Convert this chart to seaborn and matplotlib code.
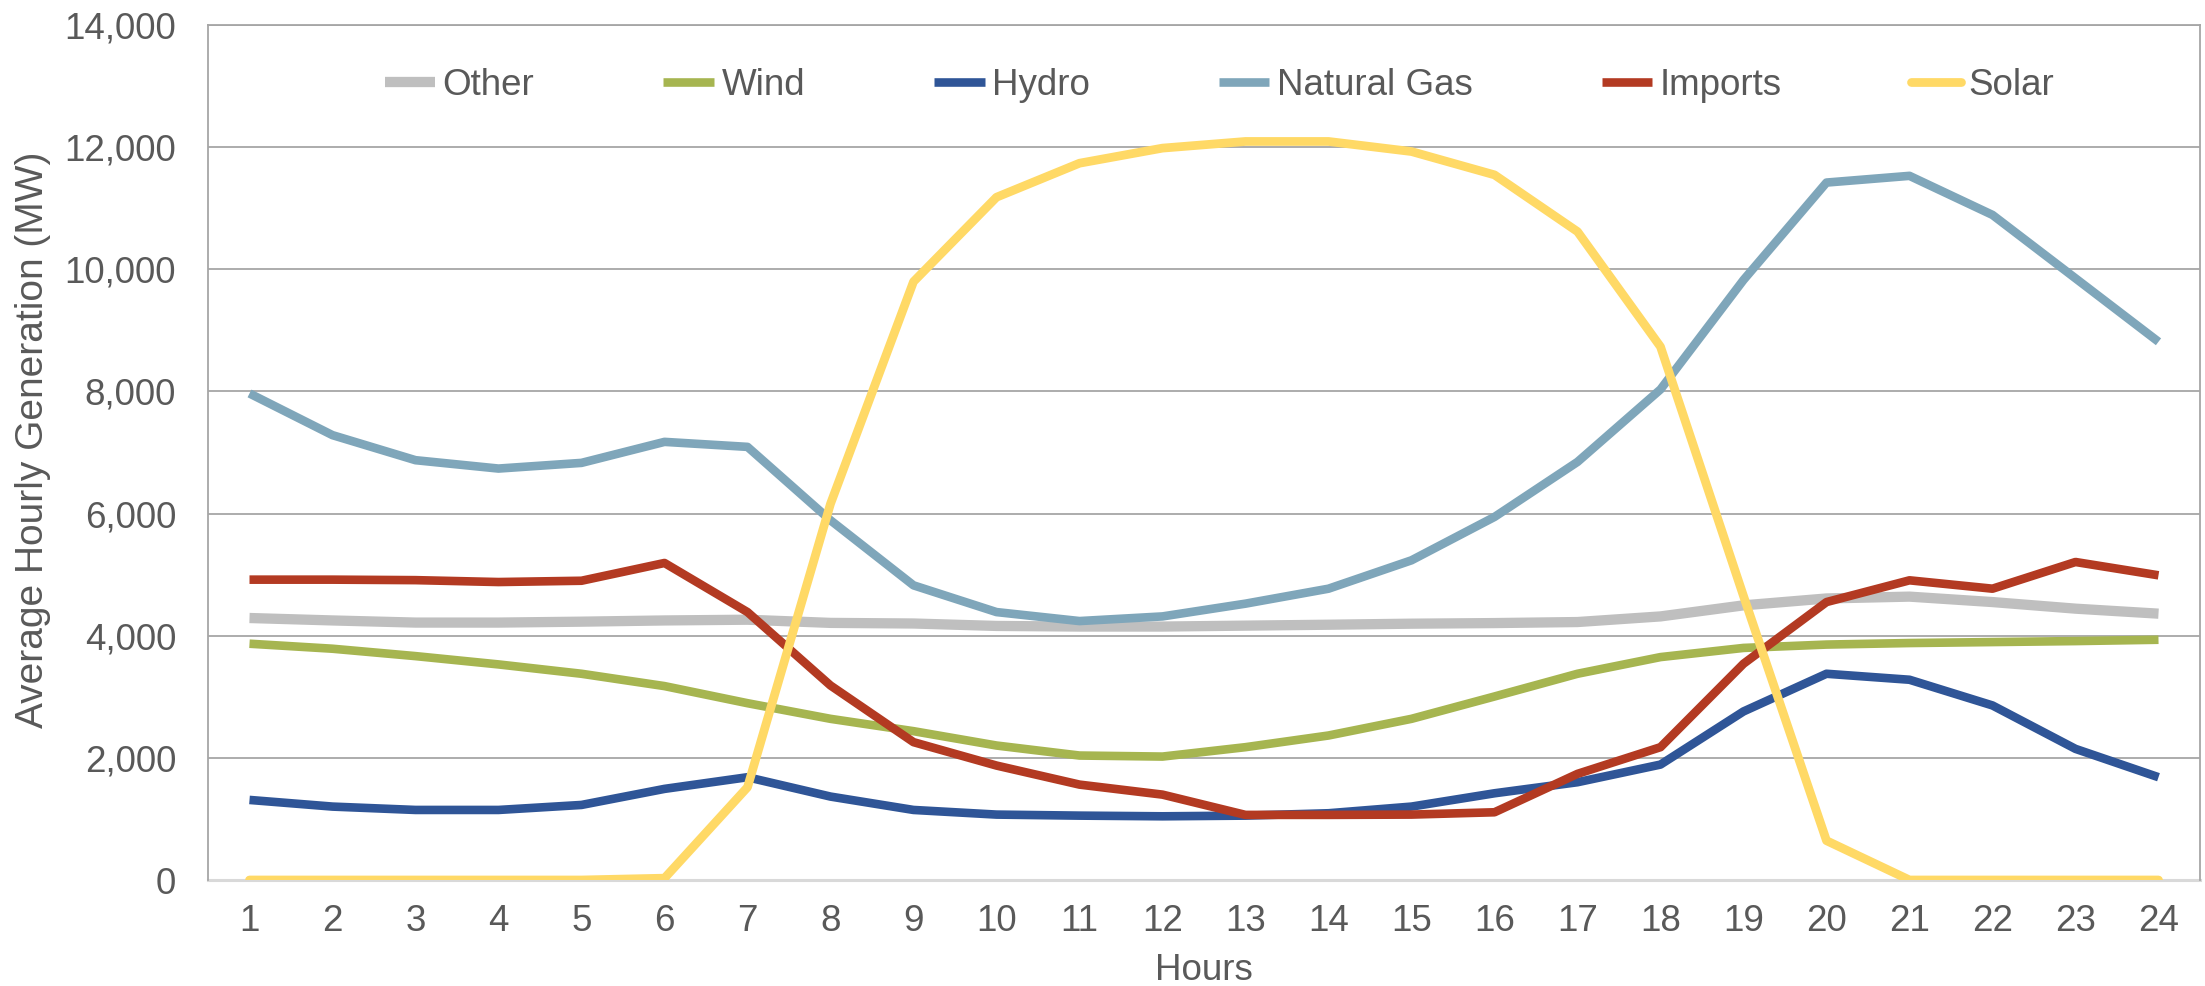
import matplotlib
matplotlib.use("Agg")
import matplotlib.pyplot as plt
import pandas as pd
import seaborn as sns
from matplotlib.lines import Line2D

# Average hourly generation by source (MW), hours 1-24
hours = list(range(1, 25))
other = [4290, 4250, 4215, 4215, 4230, 4250, 4262, 4210, 4200, 4160, 4150, 4150,
         4165, 4180, 4197, 4207, 4224, 4316, 4497, 4610, 4640, 4551, 4443, 4361]
wind = [3869, 3787, 3666, 3530, 3377, 3175, 2895, 2639, 2437, 2202, 2038, 2021,
        2175, 2366, 2639, 3005, 3377, 3650, 3800, 3855, 3880, 3896, 3912, 3934]
hydro = [1311, 1202, 1147, 1147, 1229, 1492, 1683, 1366, 1147, 1071, 1054, 1043,
         1054, 1093, 1202, 1420, 1601, 1890, 2760, 3377, 3279, 2858, 2147, 1683]
natural_gas = [7967, 7284, 6874, 6737, 6830, 7174, 7092, 5890, 4825, 4387, 4240, 4316,
               4525, 4770, 5235, 5945, 6846, 8033, 9825, 11420, 11530, 10890, 9852, 8813]
imports = [4918, 4918, 4910, 4879, 4900, 5191, 4387, 3185, 2257, 1874, 1562, 1398,
           1066, 1066, 1071, 1109, 1738, 2175, 3541, 4551, 4907, 4770, 5207, 4989]
solar = [0, 0, 0, 0, 0, 30, 1519, 6160, 9797, 11180, 11737, 11984,
         12093, 12093, 11928, 11546, 10617, 8732, 4650, 644, 0, 0, 0, 0]

series_names = ["Other", "Wind", "Hydro", "Natural Gas", "Imports", "Solar"]
series_values = [other, wind, hydro, natural_gas, imports, solar]
series_colors = ["#BFBFBF", "#A6B550", "#2F5597", "#7FA6BA", "#B33A22", "#FFD966"]
series_widths = [7.4, 6.2, 6.2, 6.2, 6.2, 6.3]
y_ticks = list(range(0, 14001, 2000))

df = pd.DataFrame({"Hours": hours})
for name, vals in zip(series_names, series_values):
    df[name] = vals

sns.set_style("white")
plt.rcParams["font.family"] = ["Liberation Sans", "DejaVu Sans"]
text_color = "#595959"
grid_color = "#A6A6A6"

fig = plt.figure(figsize=(22.05, 9.86), dpi=100)
ax = fig.add_axes([208 / 2205, 1 - 880 / 986, 1992 / 2205, 855 / 986])

handles = []
for name, color, lw in zip(series_names, series_colors, series_widths):
    cap = "round" if name == "Solar" else "butt"
    sns.lineplot(data=df, x="Hours", y=name, ax=ax, color=color, linewidth=lw,
                 solid_capstyle=cap, solid_joinstyle="round", zorder=3)
    handles.append(Line2D([0], [0], color=color, linewidth=lw, solid_capstyle=cap))

ax.set_xlim(0.5, 24.5)
ax.set_ylim(0, 14000)
ax.set_xticks(hours)
ax.set_yticks(y_ticks)
ax.set_yticklabels([f"{v:,}" for v in y_ticks])
ax.grid(axis="y", color=grid_color, linewidth=1.3, zorder=0)
ax.grid(axis="x", visible=False)

for side in ["left", "right", "top"]:
    ax.spines[side].set_color(grid_color)
    ax.spines[side].set_linewidth(1.3)
ax.spines["bottom"].set_color("#D9D9D9")
ax.spines["bottom"].set_linewidth(2.2)
ax.spines["bottom"].set_zorder(2)

ax.tick_params(axis="both", length=0, labelsize=26.5, colors=text_color)
ax.tick_params(axis="y", pad=23)
ax.tick_params(axis="x", pad=17)

ax.set_xlabel("Hours", fontsize=26.5, color=text_color)
ax.set_ylabel("Average Hourly Generation (MW)", fontsize=28, color=text_color)
ax.xaxis.set_label_coords(0.5, (880 - 970) / 855)
ax.xaxis.label.set_verticalalignment("center")
ax.yaxis.set_label_coords((33 - 208) / 1992, 0.515)
ax.yaxis.label.set_verticalalignment("center")

leg = ax.legend(handles, series_names, loc="center", ncol=6, frameon=False,
                bbox_to_anchor=(0.5078, 0.929), fontsize=26.5,
                handlelength=1.38, handletextpad=0.2, columnspacing=3.5)
for t in leg.get_texts():
    t.set_color(text_color)

fig.savefig("out.png", dpi=100)
